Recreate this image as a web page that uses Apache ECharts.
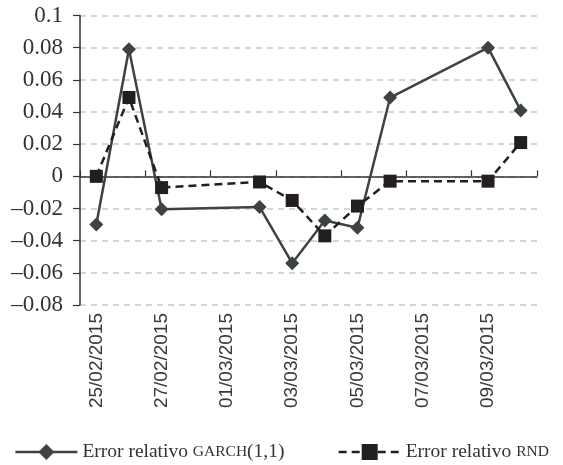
<!DOCTYPE html>
<html>
<head>
<meta charset="utf-8">
<script src="https://cdn.jsdelivr.net/npm/echarts@6/dist/echarts.min.js"></script>
<style>html,body{margin:0;padding:0;background:#fff;}#c{width:563px;height:465px;}</style>
</head>
<body>
<div id="c"></div>
<script>
var categories = ['25/02/2015','26/02/2015','27/02/2015','28/02/2015','01/03/2015','02/03/2015','03/03/2015','04/03/2015','05/03/2015','06/03/2015','07/03/2015','08/03/2015','09/03/2015','10/03/2015'];
var garch = [-0.030, 0.079, -0.0205, null, null, -0.019, -0.054, -0.0275, -0.032, 0.049, null, null, 0.080, 0.041];
var rnd = [0.000, 0.049, -0.007, null, null, -0.0035, -0.015, -0.037, -0.0185, -0.003, null, null, -0.003, 0.021];
var yTicks = {min: -0.08, max: 0.1, interval: 0.02};
var seriesNames = ['Error relativo GARCH(1,1)', 'Error relativo RND'];

var serif = 'Liberation Serif';
var chart = echarts.init(document.getElementById('c'));
chart.setOption({
  animation: false,
  backgroundColor: '#ffffff',
  grid: {left: 80, right: 26, top: 15.5, bottom: 160, outerBoundsMode: 'none'},
  legend: {
    top: 437,
    left: 'center',
    itemWidth: 62,
    itemHeight: 20,
    itemGap: 53,
    data: seriesNames,
    lineStyle: {width: 2.5},
    formatter: function (n) {
      if (n.indexOf('GARCH') >= 0) return 'Error relativo {sc|GARCH}(1,1)';
      return 'Error relativo {sc|RND}';
    },
    textStyle: {
      fontFamily: serif, fontSize: 19.5, color: '#333333',
      rich: {sc: {fontFamily: serif, fontSize: 15.5, color: '#333333'}}
    }
  },
  xAxis: [{
    type: 'category',
    data: categories,
    boundaryGap: true,
    position: 'bottom',
    axisLine: {show: false, onZero: false},
    axisTick: {show: false},
    axisLabel: {rotate: 90, interval: 1, margin: 8, fontFamily: 'Liberation Sans', fontSize: 19, color: '#3a3a3a'},
    splitLine: {show: false}
  }, {
    type: 'category',
    data: categories,
    boundaryGap: true,
    position: 'bottom',
    axisLine: {show: true, onZero: true, onZeroAxisIndex: 0, lineStyle: {color: '#333333', width: 1.5}},
    axisTick: {show: true, inside: true, interval: 1, length: 6, lineStyle: {color: '#333333', width: 1.2}},
    axisLabel: {show: false},
    splitLine: {show: false}
  }],
  yAxis: {
    type: 'value',
    min: yTicks.min, max: yTicks.max, interval: yTicks.interval,
    axisLine: {show: true, lineStyle: {color: '#333333', width: 1.5}},
    axisTick: {show: true, length: 7, lineStyle: {color: '#333333', width: 1.2}},
    axisLabel: {
      margin: 17, fontFamily: serif, fontSize: 23, color: '#333333',
      formatter: function (v) {
        var r = Math.round(v * 100) / 100;
        var s = String(Math.abs(r));
        return (r < 0 ? '\u2013' : '') + s;
      }
    },
    splitLine: {show: true, lineStyle: {color: '#c8c8c8', width: 1.5, type: [6, 5]}}
  },
  series: [{
    name: seriesNames[0],
    type: 'line',
    data: garch,
    connectNulls: true,
    symbol: 'diamond',
    symbolSize: 14,
    itemStyle: {color: '#3d4343'},
    lineStyle: {color: '#3d4343', width: 2.5}
  }, {
    name: seriesNames[1],
    type: 'line',
    data: rnd,
    connectNulls: true,
    symbol: 'rect',
    symbolSize: 13,
    itemStyle: {color: '#231f20'},
    lineStyle: {color: '#231f20', width: 2.5, type: [8, 5]}
  }]
});
</script>
</body>
</html>
